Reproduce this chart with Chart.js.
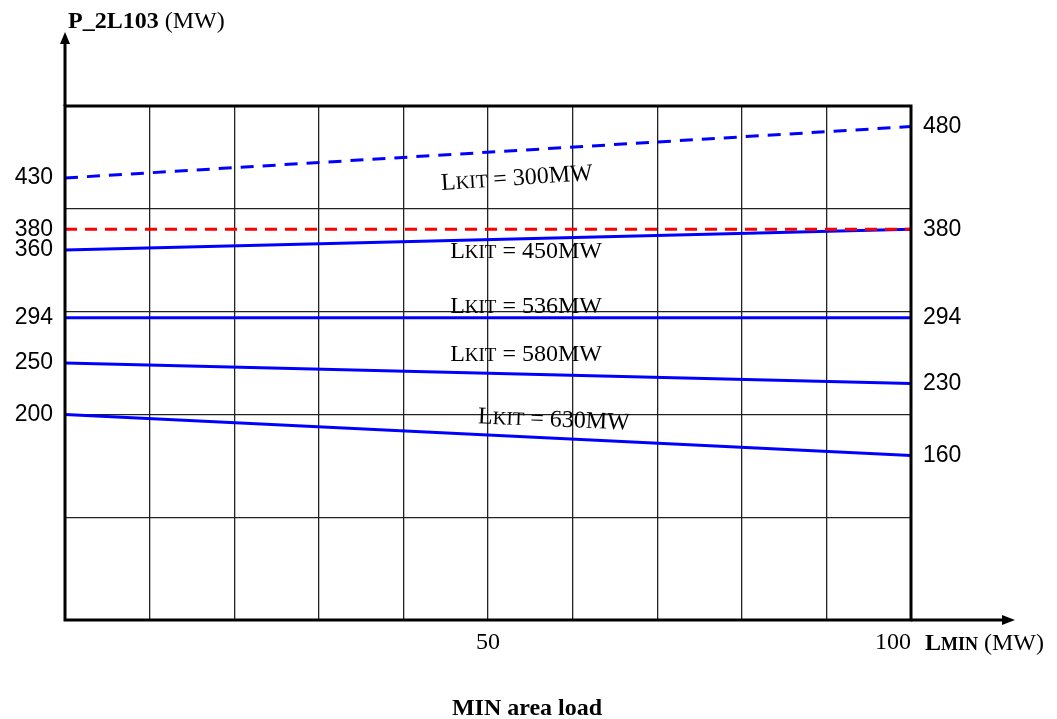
<!DOCTYPE html>
<html>
<head>
<meta charset="utf-8">
<title>P_2L103 vs LMIN</title>
<script src="https://cdn.jsdelivr.net/npm/chart.js@4.4.1/dist/chart.umd.min.js"></script>
<style>
  html, body { margin: 0; padding: 0; background: #fff; }
  canvas { display: block; }
</style>
</head>
<body>
<canvas id="lkitChart" width="1057" height="719"></canvas>
<script>
// LMIN (MW): each case is a straight line from 0 to 100
const loadPoints = [0, 100];

// P_2L103 (MW) at LMIN = 0 and LMIN = 100
const p300 = [430, 480];
const pLimit = [380, 380];
const p450 = [360, 380];
const p536 = [294, 294];
const p580 = [250, 230];
const p630 = [200, 160];

const lkitCases = ["300", "450", "536", "580", "630"];

const leftTicks = [430, 380, 360, 294, 250, 200];
const rightTicks = [480, 380, 294, 230, 160];
const bottomTicks = [50, 100];

// where each "LKIT = ..." note sits: [LMIN, P, angle in degrees]
const notePlaces = [[53.4, 431, -3.8], [54.5, 360, 0], [54.5, 306, 0], [54.5, 260, 0], [57.8, 196, 2.4]];

const SERIF = "'Liberation Serif', 'Times New Roman', serif";
const SANS = "'Liberation Sans', Arial, sans-serif";
const BLUE = "#0000ff";
const RED = "#ff0000";
const GRID = "#222";

const toPoints = vals => vals.map((v, i) => ({ x: loadPoints[i], y: v }));

// draws a run of text pieces of mixed size/weight, centred on (cx, cy)
function drawRuns(ctx, runs, cx, cy, angle) {
    ctx.save();
    ctx.translate(cx, cy);
    ctx.rotate((angle || 0) * Math.PI / 180);
    ctx.textBaseline = "alphabetic";
    ctx.textAlign = "left";
    let total = 0;
    runs.forEach(r => {
        ctx.font = r.font;
        r.w = ctx.measureText(r.text).width;
        total += r.w;
    });
    let x = -total / 2;
    runs.forEach(r => {
        ctx.font = r.font;
        ctx.fillText(r.text, x, 8);
        x += r.w;
    });
    ctx.restore();
}

const decorations = {
    id: "decorations",
    afterDraw(chart) {
        const { ctx, chartArea: a, scales } = chart;
        ctx.save();
        ctx.fillStyle = "#000";
        ctx.strokeStyle = "#000";

        // frame
        ctx.lineWidth = 3;
        ctx.strokeRect(a.left, a.top, a.right - a.left, a.bottom - a.top);

        // axis arrows
        ctx.beginPath();
        ctx.moveTo(a.left, a.top);
        ctx.lineTo(a.left, 42);
        ctx.moveTo(a.right, a.bottom);
        ctx.lineTo(1005, a.bottom);
        ctx.stroke();
        ctx.beginPath();
        ctx.moveTo(a.left, 32);
        ctx.lineTo(a.left - 5, 44);
        ctx.lineTo(a.left + 5, 44);
        ctx.closePath();
        ctx.fill();
        ctx.beginPath();
        ctx.moveTo(1015, a.bottom);
        ctx.lineTo(1002, a.bottom - 5);
        ctx.lineTo(1002, a.bottom + 5);
        ctx.closePath();
        ctx.fill();

        // y axis title
        ctx.textBaseline = "alphabetic";
        ctx.textAlign = "left";
        ctx.font = "bold 24px " + SERIF;
        ctx.fillText("P_2L103", 68, 28);
        const w = ctx.measureText("P_2L103").width;
        ctx.font = "24px " + SERIF;
        ctx.fillText(" (MW)", 68 + w, 28);

        // x axis title, small caps
        let x = 925;
        [["L", "bold 24px "], ["MIN", "bold 18px "], [" (MW)", "24px "]].forEach(([t, f]) => {
            ctx.font = f + SERIF;
            ctx.fillText(t, x, 650);
            x += ctx.measureText(t).width;
        });

        ctx.textAlign = "center";
        ctx.font = "bold 24px " + SERIF;
        ctx.fillText("MIN area load", 527, 715);

        // LKIT notes next to each line
        lkitCases.forEach((c, i) => {
            const [lx, ly, ang] = notePlaces[i];
            drawRuns(ctx, [
                { text: "L", font: "24px " + SERIF },
                { text: "KIT", font: "19px " + SERIF },
                { text: " = " + c + "MW", font: "24px " + SERIF }
            ], scales.x.getPixelForValue(lx), scales.y.getPixelForValue(ly), ang);
        });
        ctx.restore();
    }
};

const lineSet = (data, color, dash) => ({
    data: toPoints(data),
    borderColor: color,
    borderWidth: 3,
    borderDash: dash || [],
    pointRadius: 0,
    fill: false,
    tension: 0
});

const fixedTicks = list => scale => { scale.ticks = list.map(v => ({ value: v })); };

new Chart(document.getElementById("lkitChart").getContext("2d"), {
    type: "line",
    data: {
        datasets: [
            lineSet(p300, BLUE, [13, 9]),
            lineSet(pLimit, RED, [12, 8]),
            lineSet(p450, BLUE),
            lineSet(p536, BLUE),
            lineSet(p580, BLUE),
            lineSet(p630, BLUE)
        ]
    },
    options: {
        responsive: false,
        animation: false,
        layout: { padding: { top: 106, left: 0, right: 0, bottom: 0 } },
        plugins: { legend: { display: false }, tooltip: { enabled: false } },
        scales: {
            x: {
                type: "linear",
                min: 0,
                max: 100,
                afterBuildTicks: scale => {
                    scale.ticks = [];
                    for (let v = 0; v <= 100; v += 10) scale.ticks.push({ value: v });
                },
                ticks: {
                    autoSkip: false,
                    maxRotation: 0,
                    align: "inner",
                    padding: 8,
                    color: "#000",
                    font: { family: SERIF, size: 24 },
                    callback: v => bottomTicks.includes(v) ? String(v) : ""
                },
                grid: { color: GRID, lineWidth: 1.3, drawTicks: false },
                border: { display: false },
                afterFit: scale => { scale.height = 99; }
            },
            yGrid: {
                type: "linear",
                position: "left",
                min: 0,
                max: 500,
                ticks: { display: false, stepSize: 100 },
                grid: { color: GRID, lineWidth: 1.3, drawTicks: false },
                border: { display: false },
                afterFit: scale => { scale.width = 0; }
            },
            y: {
                type: "linear",
                position: "left",
                min: 0,
                max: 500,
                afterBuildTicks: fixedTicks(leftTicks),
                ticks: { autoSkip: false, padding: 4, color: "#000", font: { family: SANS, size: 23 } },
                grid: { display: false },
                border: { display: false },
                afterFit: scale => { scale.width = 65; }
            },
            yRight: {
                type: "linear",
                position: "right",
                min: 0,
                max: 500,
                afterBuildTicks: fixedTicks(rightTicks),
                ticks: { autoSkip: false, padding: 4, color: "#000", font: { family: SANS, size: 23 } },
                grid: { display: false },
                border: { display: false },
                afterFit: scale => { scale.width = 146; }
            }
        }
    },
    plugins: [decorations]
});
</script>
</body>
</html>
